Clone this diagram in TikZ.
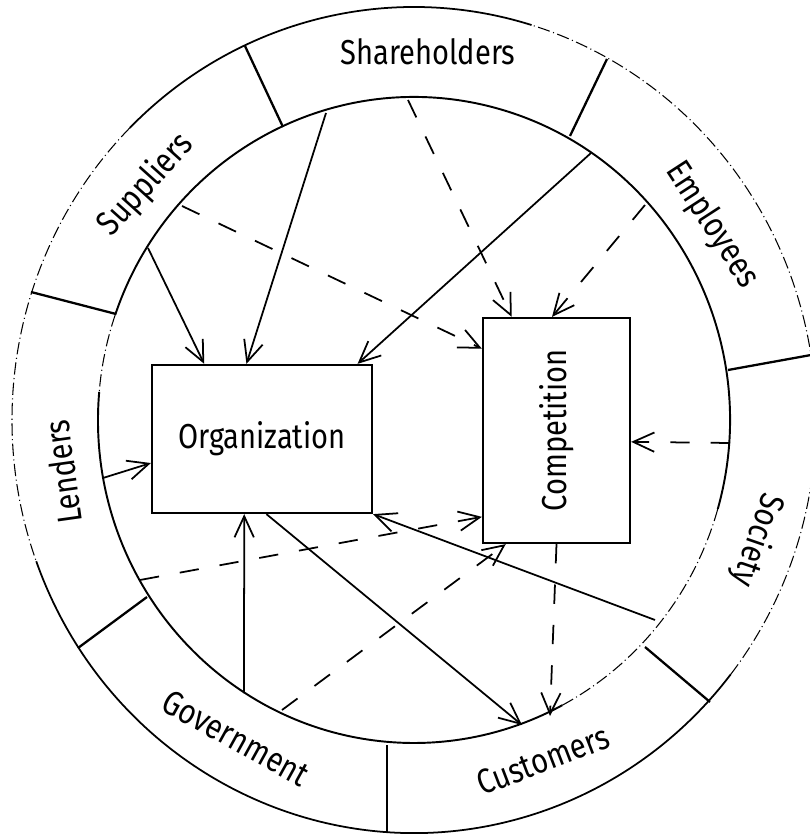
\documentclass[tikz,border=0pt]{standalone}
\usepackage{fontspec}
\usepackage{graphicx}
\newfontfamily\labelfont[FakeStretch=0.84]{Fira Sans}
\usetikzlibrary{arrows.meta,calc}

\begin{document}
\begin{tikzpicture}[
    x=0.02cm, y=0.02cm,
    every node/.style={font={\labelfont\fontsize{19.7}{24}\selectfont}},
    box/.style={draw, line width=1.3pt, inner sep=0pt},
    flow/.style={line width=1pt, -{Straight Barb[length=12pt,width=11pt]}},
    rival/.style={flow, dash pattern=on 11pt off 12pt},
    faded/.style={line width=0.6pt, dash pattern=on 7pt off 2pt on 0.6pt off 2pt}
]
\useasboundingbox (-414,-417) rectangle (395,420);

% outer ring
\draw[line width=1pt] (200:402 and 413) arc[start angle=200, end angle=322, x radius=402, y radius=413];
\draw[faded] (322:402 and 413) arc[start angle=322, end angle=433, x radius=402, y radius=413];
\draw[line width=1pt] (73:402 and 413) arc[start angle=73, end angle=135, x radius=402, y radius=413];
\draw[faded] (135:402 and 413) arc[start angle=135, end angle=200, x radius=402, y radius=413];

% inner ring
\draw[line width=1.1pt] (-16:316 and 323) arc[start angle=-16, end angle=161, x radius=316, y radius=323];
\draw[faded] (161:316 and 323) arc[start angle=161, end angle=175, x radius=316, y radius=323];
\draw[line width=1.1pt] (175:316 and 323) arc[start angle=175, end angle=298, x radius=316, y radius=323];
\draw[faded] (298:316 and 323) arc[start angle=298, end angle=344, x radius=316, y radius=323];

% sector borders
\draw[line width=1.3pt] (-131,293) -- (-169,374);
\draw[line width=1.3pt] (156,284) -- (193,361);
\draw[line width=1.3pt] (314,50) -- (397,65);
\draw[line width=1.3pt] (231,-227) -- (296,-282);
\draw[line width=1.3pt] (-27,-325) -- (-27,-413);
\draw[line width=1.3pt] (-267,-177) -- (-336,-228);
\draw[line width=1.3pt] (-298,106) -- (-383,128);

% stakeholders
\node (shareholders) at (14,368) {Shareholders};
\node[rotate=-57] (employees) at (298,195) {Employees};
\node[rotate=-109] (society) at (343,-120) {Society};
\node[rotate=21] (customers) at (129,-340) {Customers};
\node[rotate=-29] (government) at (-178,-318) {Government};
\node[rotate=98] (lenders) at (-351,-52) {Lenders};
\node[rotate=48] (suppliers) at (-268,235) {Suppliers};

\node[box, minimum width=4.4cm, minimum height=2.96cm] (org) at (-152,-19) {Organization};
\node[box, minimum width=2.94cm, minimum height=4.5cm] (comp) at (142.5,-10.5) {\rotatebox{90}{Competition}};

% ends on the inner ring
\coordinate (supA) at (-266,172);
\coordinate (supB) at (-232,214);
\coordinate (shaA) at (-88,307);
\coordinate (shaB) at (-6,320);
\coordinate (empA) at (177,267);
\coordinate (empB) at (231,215);
\coordinate (socA) at (241,-200);
\coordinate (socB) at (316,-23);
\coordinate (cusA) at (108,-305);
\coordinate (cusB) at (136,-296);
\coordinate (govA) at (-170,-273);
\coordinate (govB) at (-132,-290);
\coordinate (lenA) at (-311,-58);
\coordinate (lenB) at (-274,-160);

\draw[flow] (supA) -- ($(org.north west)!0.24!(org.north east)$);
\draw[flow] (shaA) -- ($(org.north west)!0.43!(org.north east)$);
\draw[flow] (empA) -- ($(org.north west)!0.93!(org.north east)$);
\draw[flow] (lenA) -- ($(org.north west)!0.66!(org.south west)$);
\draw[flow] (govA) -- ($(org.south west)!0.42!(org.south east)$);
\draw[flow] (socA) -- (org.south east);
\draw[flow] ($(org.south west)!0.52!(org.south east)$) -- (cusA);

\draw[rival] (supB) -- ($(comp.north west)!0.14!(comp.south west)$);
\draw[rival] (shaB) -- ($(comp.north west)!0.20!(comp.north east)$);
\draw[rival] (empB) -- ($(comp.north west)!0.47!(comp.north east)$);
\draw[rival] (socB) -- ($(comp.north east)!0.55!(comp.south east)$);
\draw[rival] (lenB) -- ($(comp.north west)!0.88!(comp.south west)$);
\draw[rival] (govB) -- ($(comp.south west)!0.16!(comp.south east)$);
\draw[rival] (comp.south) -- (cusB);
\end{tikzpicture}
\end{document}
